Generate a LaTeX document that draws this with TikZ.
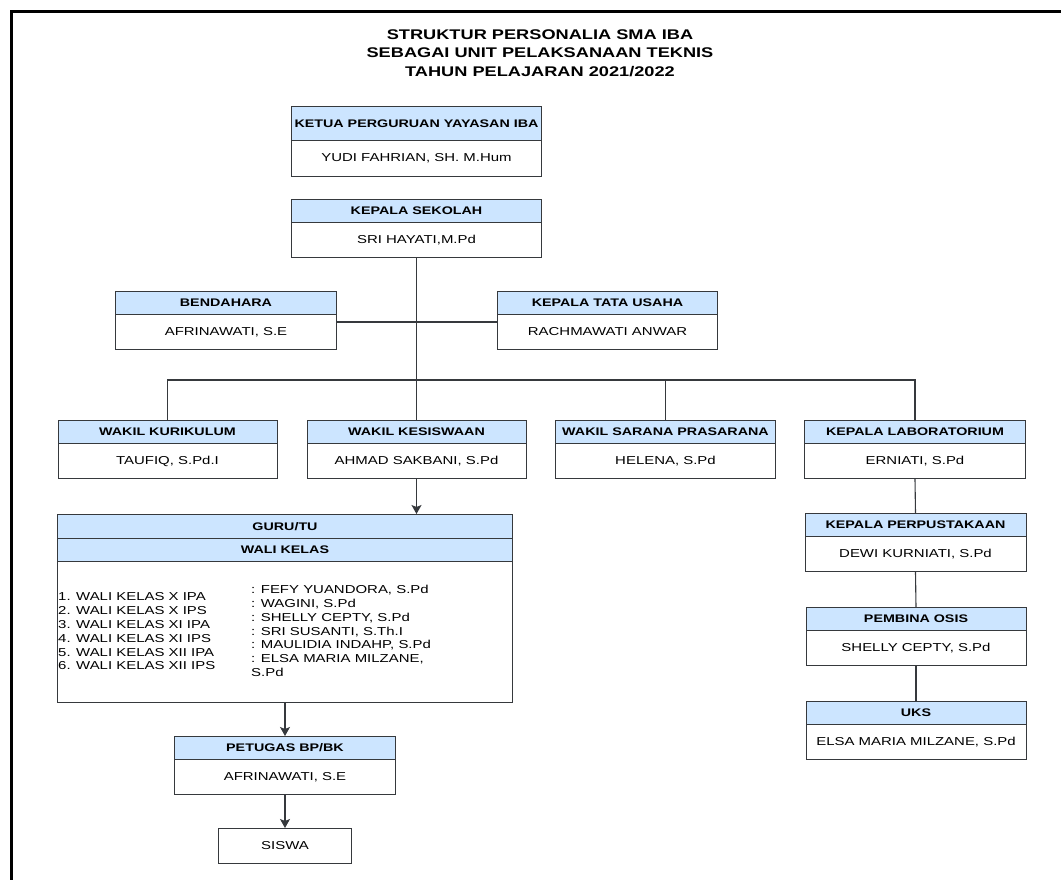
\documentclass[tikz,border=0pt]{standalone}
\usepackage{fontspec}
\setmainfont{Liberation Sans}[FakeStretch=1.3]
\usetikzlibrary{arrows.meta}
\definecolor{headclr}{HTML}{CCE5FF}
\definecolor{lineclr}{HTML}{36393D}
\tikzset{
  head/.style={draw=lineclr, fill=headclr, line width=1pt, anchor=north west, inner sep=0pt,
    font=\fontsize{11}{13}\selectfont\bfseries, minimum height=23pt},
  body/.style={draw=lineclr, fill=white, line width=1pt, anchor=north west, inner sep=0pt,
    font=\fontsize{11.5}{13.8}\selectfont, minimum height=35pt},
  link/.style={draw=lineclr, line width=1.1pt},
  arr/.style={-{Stealth[length=9pt,width=10pt,inset=2pt]}},
}
\begin{document}
\begin{tikzpicture}[x=1pt,y=-1pt]
  \useasboundingbox (0,0) rectangle (1061,880);
  % frame
  \draw[line width=2.8pt] (11.3,880) -- (11.3,11.5) -- (1061,11.5);

  \node[align=center, font=\fontsize{14}{18.5}\selectfont\bfseries] (judul) at (540,53)
    {STRUKTUR PERSONALIA SMA IBA\\SEBAGAI UNIT PELAKSANAAN TEKNIS\\TAHUN PELAJARAN 2021/2022};

  % pimpinan
  \node[head, minimum width=250pt, minimum height=34pt] (ketua) at (291,106) {KETUA PERGURUAN YAYASAN IBA};
  \node[body, minimum width=250pt, minimum height=36pt] (ketuab) at (291,140) {YUDI FAHRIAN, SH. M.Hum};

  \node[head, minimum width=250pt] (kepsek) at (291,199) {KEPALA SEKOLAH};
  \node[body, minimum width=250pt] (kepsekb) at (291,222) {SRI HAYATI,M.Pd};

  \node[head, minimum width=221pt] (bend) at (115,291) {BENDAHARA};
  \node[body, minimum width=221pt] (bendb) at (115,314) {AFRINAWATI, S.E};

  \node[head, minimum width=220pt] (tata) at (497,291) {KEPALA TATA USAHA};
  \node[body, minimum width=220pt] (tatab) at (497,314) {RACHMAWATI ANWAR};

  % wakil
  \node[head, minimum width=219pt] (kurik) at (57.5,420) {WAKIL KURIKULUM};
  \node[body, minimum width=219pt] (kurikb) at (57.5,443) {TAUFIQ, S.Pd.I};

  \node[head, minimum width=219pt] (kesis) at (306.5,420) {WAKIL KESISWAAN};
  \node[body, minimum width=219pt] (kesisb) at (306.5,443) {AHMAD SAKBANI, S.Pd};

  \node[head, minimum width=220pt] (sarana) at (555,420) {WAKIL SARANA PRASARANA};
  \node[body, minimum width=220pt] (saranab) at (555,443) {HELENA, S.Pd};

  \node[head, minimum width=221pt] (lab) at (804,420) {KEPALA LABORATORIUM};
  \node[body, minimum width=221pt] (labb) at (804,443) {ERNIATI, S.Pd};

  \node[head, minimum width=221pt] (perpus) at (804.5,513) {KEPALA PERPUSTAKAAN};
  \node[body, minimum width=221pt] (perpusb) at (804.5,536) {DEWI KURNIATI, S.Pd};

  \node[head, minimum width=220pt] (osis) at (805.5,607) {PEMBINA OSIS};
  \node[body, minimum width=220pt] (osisb) at (805.5,630) {SHELLY CEPTY, S.Pd};

  \node[head, minimum width=220pt] (uks) at (805.5,701) {UKS};
  \node[body, minimum width=220pt] (uksb) at (805.5,724) {ELSA MARIA MILZANE, S.Pd};

  % guru dan wali kelas
  \node[head, minimum width=455pt, minimum height=24pt] (guru) at (57,514) {GURU/TU};
  \node[head, minimum width=455pt] (wali) at (57,538) {WALI KELAS};
  \node[body, minimum width=455pt, minimum height=141pt] (walib) at (57,561) {};
  \node[anchor=west, align=left, inner sep=0pt, font=\fontsize{11.5}{13.8}\selectfont] (kelas) at (58,631.5)
    {1. WALI KELAS X IPA\\2. WALI KELAS X IPS\\3. WALI KELAS XI IPA\\4. WALI KELAS XI IPS\\5. WALI KELAS XII IPA\\6. WALI KELAS XII IPS};
  \node[anchor=west, align=left, inner sep=0pt, font=\fontsize{11.5}{13.8}\selectfont] (nama) at (251,631)
    {: FEFY YUANDORA, S.Pd\\: WAGINI, S.Pd\\: SHELLY CEPTY, S.Pd\\: SRI SUSANTI, S.Th.I\\: MAULIDIA INDAHP, S.Pd\\: ELSA MARIA MILZANE,\\S.Pd};

  \node[head, minimum width=221pt] (bpbk) at (174,736) {PETUGAS BP/BK};
  \node[body, minimum width=221pt] (bpbkb) at (174,759) {AFRINAWATI, S.E};

  \node[body, minimum width=133pt] (siswa) at (218,828) {SISWA};

  % garis
  \coordinate (mid) at (416,322);
  \coordinate (bus) at (416,380);
  \draw[link] (kepsekb.south) -- (kesis.north);
  \draw[link] (bendb.east |- mid) -- (tatab.west |- mid);
  \draw[link] (kurik.north) |- (bus) -| (lab.north);
  \draw[link] (sarana.north) -- (sarana.north |- bus);
  \draw[link] (labb.south) -- (perpus.north);
  \draw[link] (perpusb.south) -- (osis.north);
  \draw[link] (osisb.south) -- (uks.north);
  \draw[link,arr] (kesisb.south) -- (kesisb.south |- guru.north);
  \draw[link,arr] (walib.south) -- (bpbk.north);
  \draw[link,arr] (bpbkb.south) -- (siswa.north);
\end{tikzpicture}
\end{document}
